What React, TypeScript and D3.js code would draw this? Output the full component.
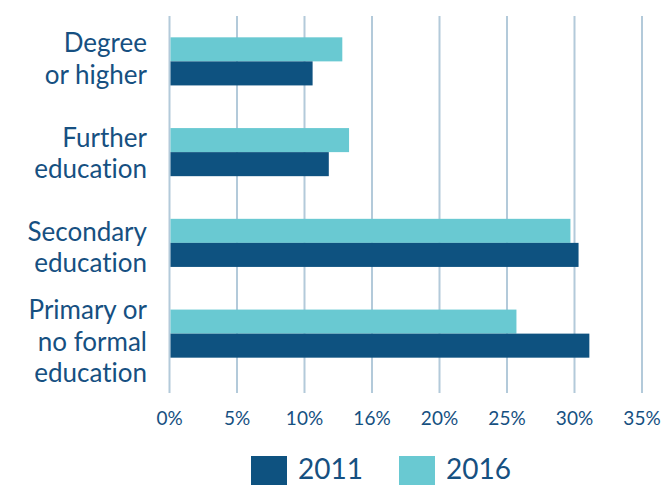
import React, { useEffect, useRef } from 'react';
import { select, scaleBand, scaleLinear } from 'd3';

const categories = [
  ['Degree', 'or higher'],
  ['Further', 'education'],
  ['Secondary', 'education'],
  ['Primary or', 'no formal', 'education'],
];
const categoryKeys = ['degree', 'further', 'secondary', 'primary'];
const values2011 = [10.6, 11.8, 30.3, 31.1];
const values2016 = [12.8, 13.3, 29.7, 25.7];
const tickValues = [0, 5, 10, 15, 20, 25, 30, 35];
const tickLabels = ['0%', '5%', '10%', '16%', '20%', '25%', '30%', '35%'];
const seriesNames = ['2011', '2016'];

const DARK = '#0e5280';
const LIGHT = '#69c9d2';
const TEXT = '#165081';
const GRID = '#b3cada';
const FONT = 'Lato, "Open Sans", sans-serif';

const App = () => {
  const svgRef = useRef(null);
  const width = 662;
  const height = 485;

  useEffect(() => {
    const svg = select(svgRef.current);
    svg.selectAll('*').remove();

    const x = scaleLinear().domain([0, 35]).range([169.5, 642]);
    const y = scaleBand()
      .domain(categoryKeys)
      .range([16, 379])
      .paddingInner(0.47)
      .paddingOuter(0.235);
    const half = y.bandwidth() / 2;
    // labels sit on a slightly wider band than the bars
    const yLabel = scaleBand().domain(categoryKeys).range([16, 393]);

    // gridlines
    svg.append('g')
      .selectAll('line')
      .data(tickValues)
      .enter()
      .append('line')
      .attr('x1', d => x(d))
      .attr('x2', d => x(d))
      .attr('y1', 16)
      .attr('y2', 393)
      .attr('stroke', GRID)
      .attr('stroke-width', 2);

    // tick labels
    svg.append('g')
      .selectAll('text')
      .data(tickValues)
      .enter()
      .append('text')
      .attr('x', d => x(d))
      .attr('y', 425)
      .attr('text-anchor', 'middle')
      .attr('font-family', FONT)
      .attr('font-size', 19)
      .attr('fill', TEXT)
      .text((d, i) => tickLabels[i]);

    // bars
    const bars = svg.append('g');
    bars.selectAll('rect.s2016')
      .data(values2016)
      .enter()
      .append('rect')
      .attr('class', 's2016')
      .attr('x', x(0) + 1)
      .attr('y', (d, i) => y(categoryKeys[i]))
      .attr('width', d => x(d) - x(0) - 1)
      .attr('height', half)
      .attr('fill', LIGHT);
    bars.selectAll('rect.s2011')
      .data(values2011)
      .enter()
      .append('rect')
      .attr('class', 's2011')
      .attr('x', x(0) + 1)
      .attr('y', (d, i) => y(categoryKeys[i]) + half)
      .attr('width', d => x(d) - x(0) - 1)
      .attr('height', half)
      .attr('fill', DARK);

    // category labels
    const lineH = 31.5;
    categories.forEach((lines, i) => {
      const cy = yLabel(categoryKeys[i]) + yLabel.bandwidth() / 2;
      const top = cy - ((lines.length - 1) * lineH) / 2 + 5;
      lines.forEach((ln, j) => {
        svg.append('text')
          .attr('x', 147)
          .attr('y', top + j * lineH)
          .attr('text-anchor', 'end')
          .attr('font-family', FONT)
          .attr('font-size', 26)
          .attr('fill', TEXT)
          .style('font-variant-ligatures', 'none')
          .text(ln);
      });
    });

    // legend
    const legend = svg.append('g');
    const legendX = [251, 399];
    seriesNames.forEach((name, i) => {
      legend.append('rect')
        .attr('x', legendX[i])
        .attr('y', 456)
        .attr('width', 36)
        .attr('height', 32)
        .attr('fill', i === 0 ? DARK : LIGHT);
      legend.append('text')
        .attr('x', legendX[i] + 47)
        .attr('y', 479)
        .attr('font-family', FONT)
        .attr('font-size', 28)
        .attr('fill', TEXT)
        .text(name);
    });
  }, []);

  return (
    <svg
      ref={svgRef}
      width={width}
      height={height}
      style={{ position: 'absolute', left: 0, top: 0, background: '#fff' }}
    />
  );
};

export default App;
